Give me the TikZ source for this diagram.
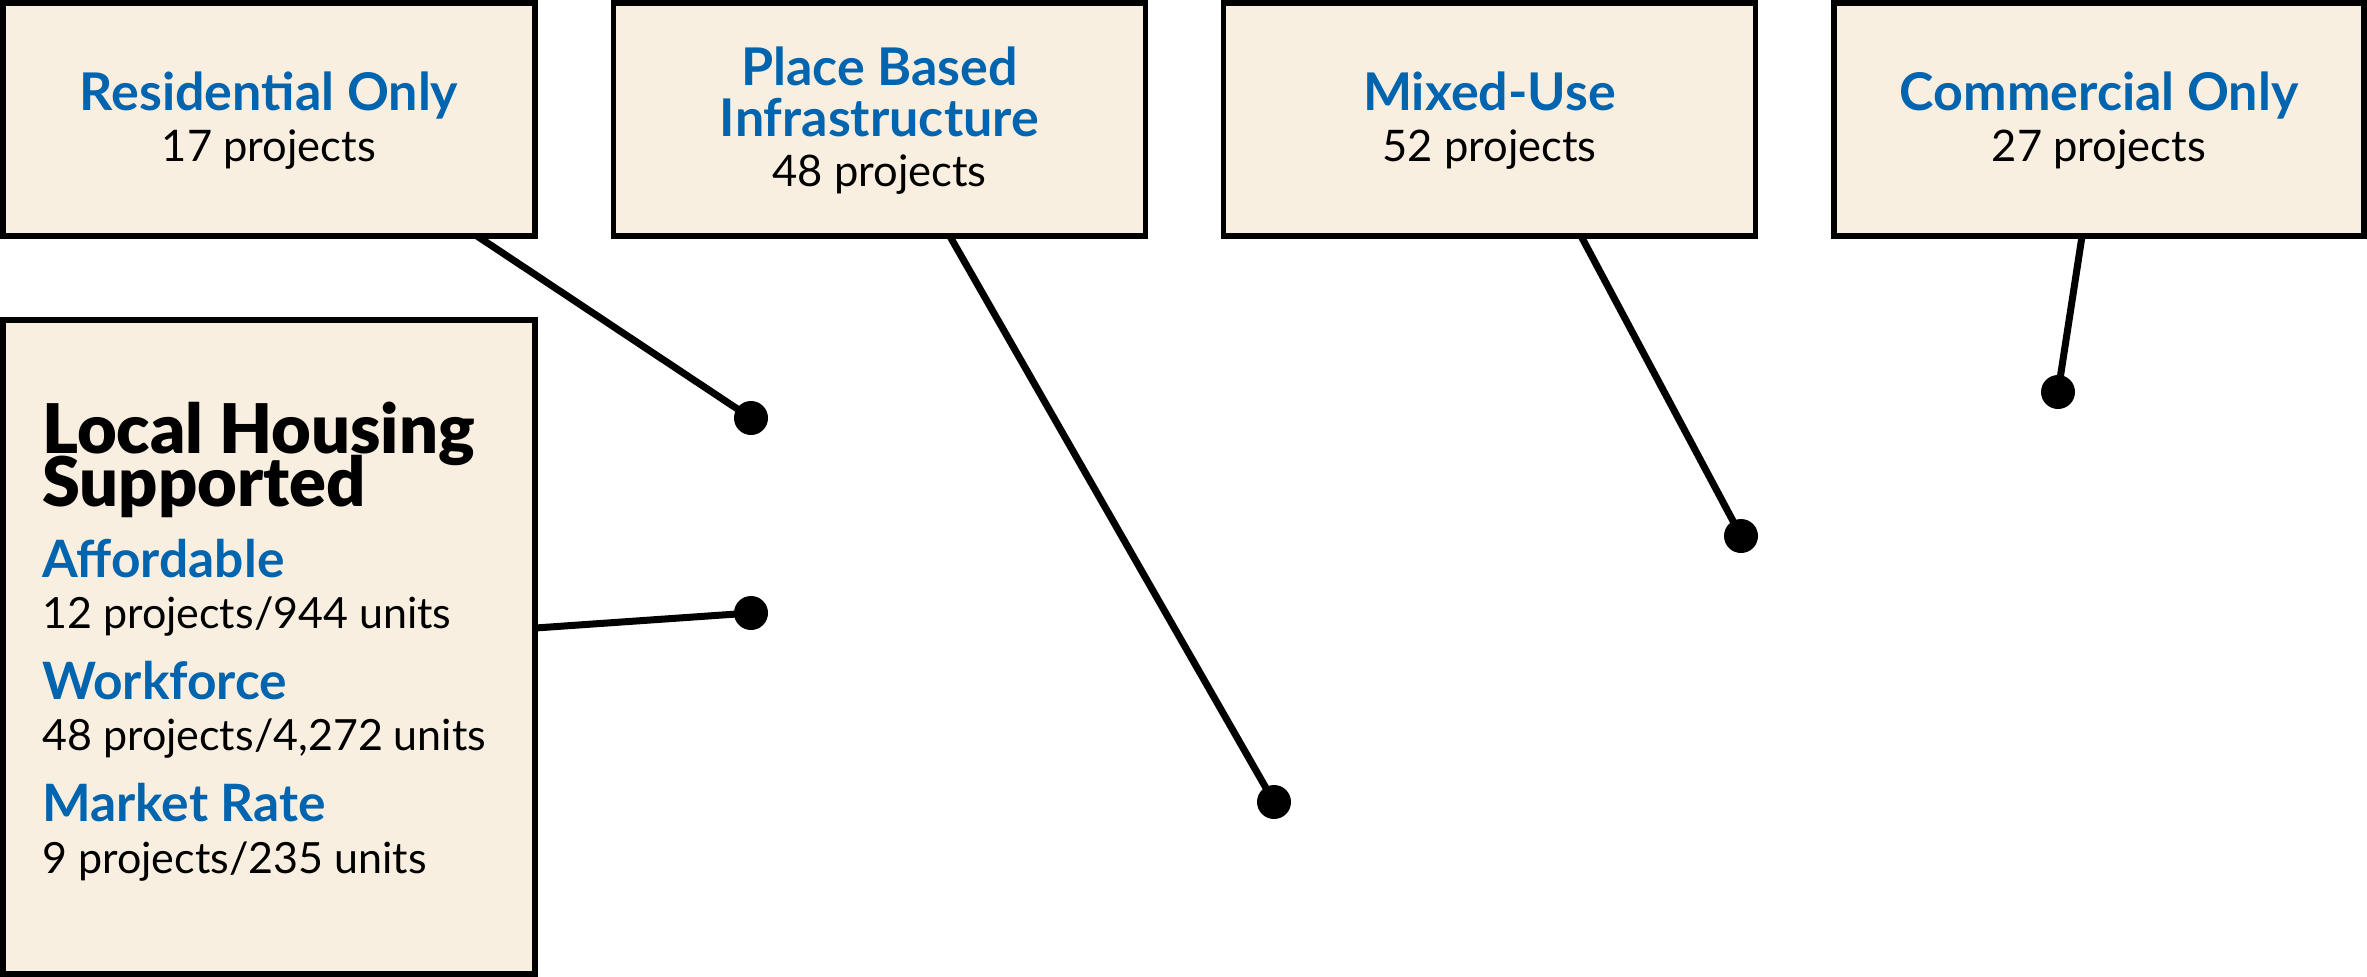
\documentclass[tikz,border=0pt]{standalone}
\usepackage{fontspec}
\setmainfont{Lato}
\newfontfamily\heavyfont{Lato Black}
\usetikzlibrary{calc}
\definecolor{boxfill}{RGB}{249,239,224}
\definecolor{titleblue}{RGB}{0,100,175}
\newcommand\myheadfont{\fontsize{68.5}{53}\selectfont\setlength{\lineskiplimit}{-200pt}\setlength{\lineskip}{0pt}\heavyfont}
\begin{document}
\begin{tikzpicture}[x=1pt,y=-1pt,
  catbox/.style={draw=black,line width=5.5pt,fill=boxfill,minimum width=532pt,minimum height=233pt,inner sep=0pt,outer sep=0pt},
  bigbox/.style={draw=black,line width=5.5pt,fill=boxfill,minimum width=532pt,minimum height=654pt,inner sep=0pt,outer sep=0pt},
  cattitle/.style={font=\fontsize{52}{60}\selectfont\bfseries,text=titleblue,inner sep=0pt},
  catcount/.style={font=\fontsize{43.5}{50}\selectfont,text=black,inner sep=0pt},
  heading/.style={font=\myheadfont,text=black,inner sep=0pt,align=left,anchor=base west},
  subtitle/.style={font=\fontsize{51.5}{60}\selectfont\bfseries,text=titleblue,inner sep=0pt,anchor=base west},
  subcount/.style={font=\fontsize{43}{50}\selectfont,text=black,inner sep=0pt,anchor=base west},
  dot/.style={circle,fill=black,minimum size=34pt,inner sep=0pt},
  conn/.style={draw=black,line width=7pt}]
\useasboundingbox (0,0) rectangle (2367,977);

% category boxes
\node[catbox] (box1) at (269,119.5) {};
\node[catbox] (box2) at (879.5,119.5) {};
\node[catbox] (box3) at (1489.5,119.5) {};
\node[catbox,minimum width=530pt] (box4) at (2099,119.5) {};
\node[bigbox] (big) at (269,647) {};

% dots
\node[dot] (d1) at (751,418) {};
\node[dot] (d2) at (751,613) {};
\node[dot] (d3) at (1274,802) {};
\node[dot] (d4) at (1741,536) {};
\node[dot] (d5) at (2058,392) {};

% connectors
\draw[conn] ($(box1.south west)!0.891!(box1.south east)$) -- (d1.center);
\draw[conn] ($(big.north east)!0.471!(big.south east)$) -- (d2.center);
\draw[conn] ($(box2.south west)!0.632!(box2.south east)$) -- (d3.center);
\draw[conn] ($(box3.south west)!0.672!(box3.south east)$) -- (d4.center);
\draw[conn] ($(box4.south west)!0.468!(box4.south east)$) -- (d5.center);

% box texts
\node[cattitle,anchor=base] (t1) at (269,110) {Residential Only};
\node[catcount,anchor=base] (c1) at (269,161) {17 projects};
\node[cattitle,anchor=base] (t2a) at (879.5,85) {Place Based};
\node[cattitle,anchor=base] (t2b) at (879.5,136) {Infrastructure};
\node[catcount,anchor=base] (c2) at (879.5,186) {48 projects};
\node[cattitle,anchor=base] (t3) at (1489.5,110) {Mixed-Use};
\node[catcount,anchor=base] (c3) at (1489.5,161) {52 projects};
\node[cattitle,anchor=base] (t4) at (2099,110) {Commercial Only};
\node[catcount,anchor=base] (c4) at (2099,161) {27 projects};

% big box texts
\node[heading] (h1) at (42,506) {Local Housing\\Supported};
\node[subtitle] (s1) at (42,577) {Affordable};
\node[subcount] (n1) at (42,628) {12 projects/944 units};
\node[subtitle] (s2) at (42,699) {Workforce};
\node[subcount] (n2) at (42,750) {48 projects/4,272 units};
\node[subtitle] (s3) at (42,821) {Market Rate};
\node[subcount] (n3) at (42,873) {9 projects/235 units};
\end{tikzpicture}
\end{document}
